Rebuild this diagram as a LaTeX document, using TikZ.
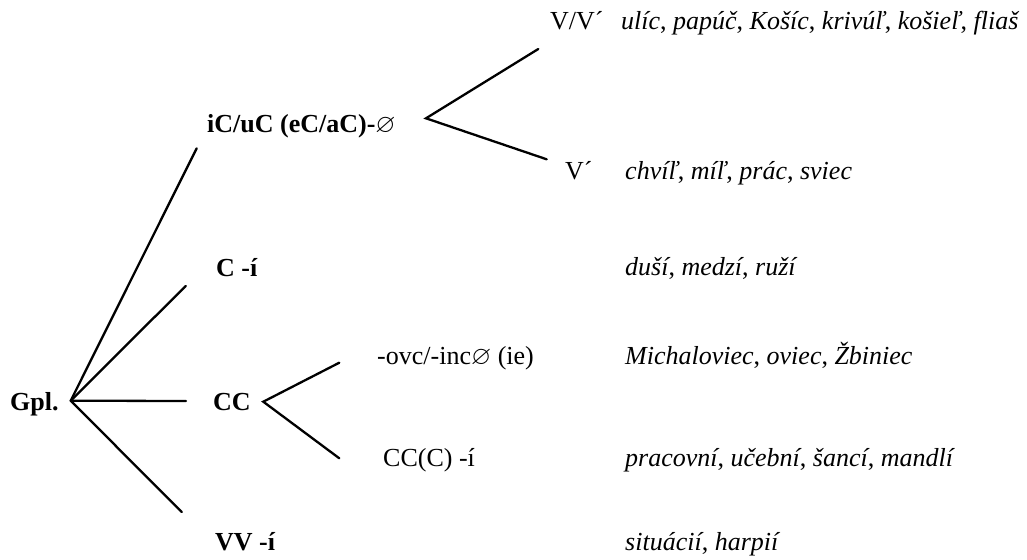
\documentclass[tikz,border=0pt]{standalone}
\usepackage{amssymb}
\usepackage{fontspec}
\setmainfont{Liberation Serif}
\usetikzlibrary{positioning}

\begin{document}
\begin{tikzpicture}[
		x=1pt,y=-1pt,
		font=\fontsize{26}{31}\selectfont,
		lab/.style={anchor=base west,inner sep=0pt},
		head/.style={lab,font=\fontsize{26}{31}\selectfont\bfseries},
		branch/.style={line width=2.3pt,line cap=round},
		scale=1]
		\useasboundingbox (0,0) rectangle (1027,559);
		
		% Left column
		\node[head] (gpl) at (10,410) {Gpl.};
		\node[head] (icuc) at (207,132) {iC/uC (eC/aC)-$\varnothing$};
		\node[head] (ci) at (216,276) {C -í};
		\node[head] (cc) at (213,410) {CC};
		\node[head] (vvi) at (215,550) {VV -í};
		
		% Middle column
		\node[lab] (vv) at (550,30) {V/V´};
		\node[lab] (vacc) at (565,179) {V´};
		\node[lab] (ovc) at (377,364) {-ovc/-inc$\varnothing$ (ie)};
		\node[lab] (ccc) at (383,466) {CC(C) -í};
		
		% Examples
		\node[lab] (ex1) at (621,30) {\textit{ulíc}, \textit{papúč}, \textit{Košíc}, \textit{krivúľ}, \textit{košieľ}, \textit{fliaš}};
		\node[lab] (ex2) at (625,179) {\textit{chvíľ}, \textit{míľ}, \textit{prác}, \textit{sviec}};
		\node[lab] (ex3) at (625,275) {\textit{duší}, \textit{medzí}, \textit{ruží}};
		\node[lab] (ex4) at (625,364) {\textit{Michaloviec}, \textit{oviec}, \textit{Žbiniec}};
		\node[lab] (ex5) at (625,466) {\textit{pracovní}, \textit{učební}, \textit{šancí}, \textit{mandlí}};
		\node[lab] (ex6) at (625,550) {\textit{situácií}, \textit{harpií}};
		
		\draw
		(70.7,400.7) coordinate (G)
		(263.3,401.7) coordinate (C)
		(426,118.3) coordinate (I);
		
		% Branches from Gpl.
		\draw[branch] (G) -- (196.7,148.3) coordinate (g1);
		\draw[branch] (G) -- (185.7,286) coordinate (g2);
		\draw[branch] (G) -- (186,401) coordinate (g3);
		\draw[branch] (G) -- (181.7,512) coordinate (g4);
		
		% Branches from iC/uC and CC
		\draw[branch] (538.3,49) coordinate (i1) -- (I) -- (546.7,159.3) coordinate (i2);
		\draw[branch] (339.3,362.7) coordinate (c1) -- (C) -- (339.3,458.3) coordinate (c2);
		
\end{tikzpicture}
\end{document}
